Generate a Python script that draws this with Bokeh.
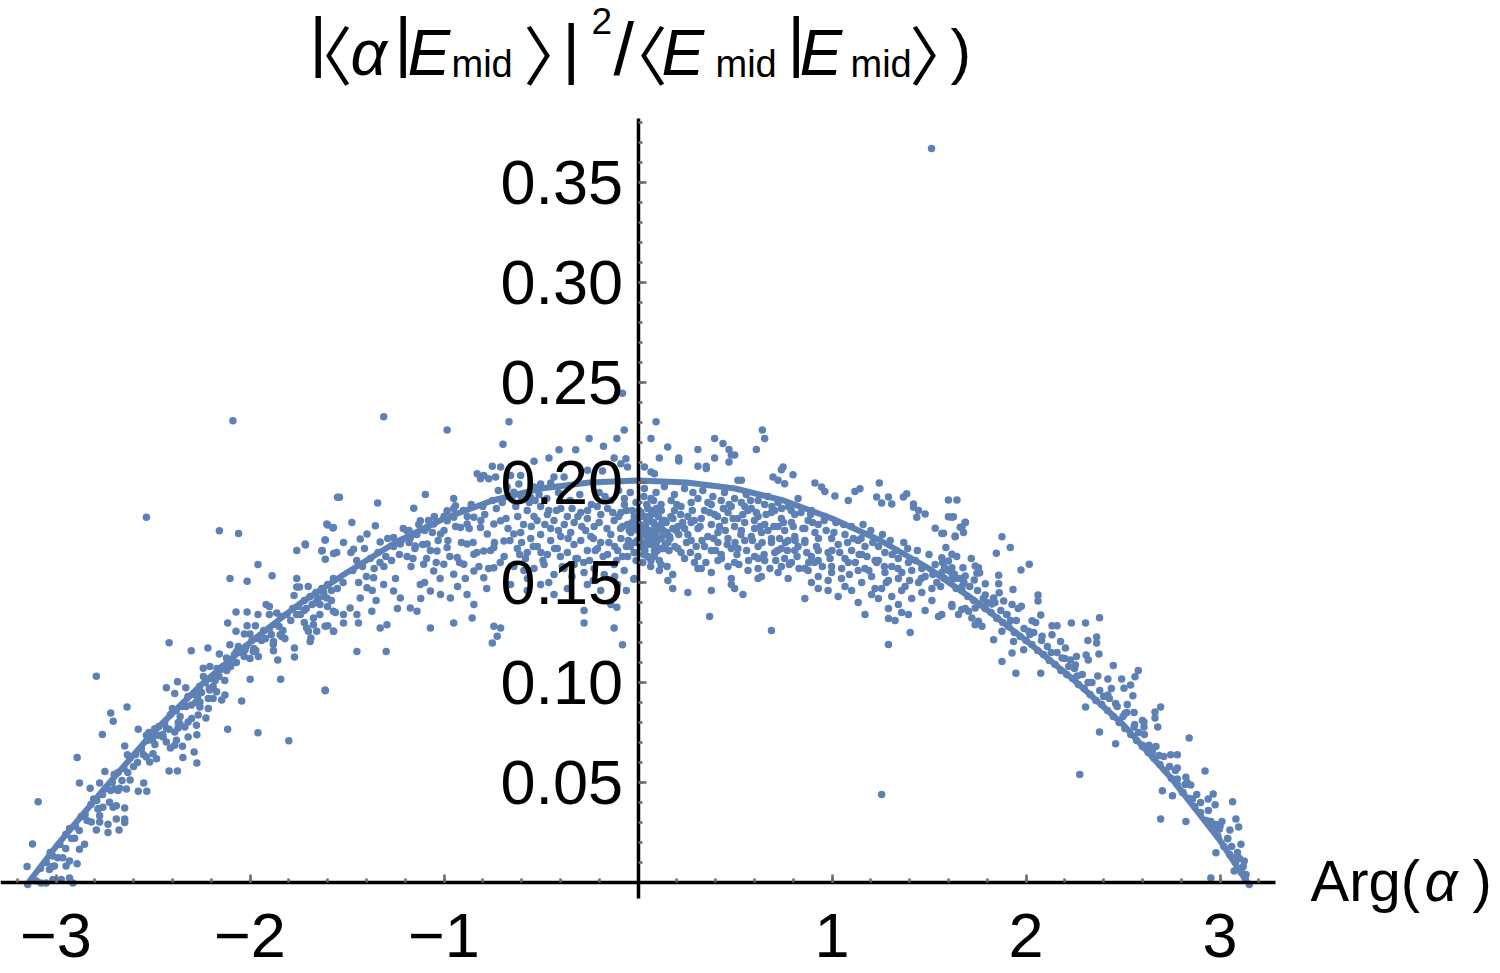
from bokeh.plotting import figure
from bokeh.models import Range1d, FixedTicker, Label, ColumnDataSource
from bokeh.embed import file_html
from bokeh.resources import INLINE

# ---------------- data ----------------
curve_x = [-3.1416, -3.0, -2.75, -2.5, -2.25, -2.0, -1.75, -1.5, -1.25, -1.0, -0.75, -0.5, -0.25, 0.0,
           0.25, 0.5, 0.75, 1.0, 1.25, 1.5, 1.75, 2.0, 2.25, 2.5, 2.75, 3.0, 3.1416]
curve_y = [0.0, 0.018, 0.047, 0.075, 0.099, 0.120, 0.139, 0.155, 0.170, 0.182, 0.191, 0.197, 0.200, 0.201,
           0.200, 0.197, 0.191, 0.182, 0.171, 0.157, 0.140, 0.121, 0.101, 0.079, 0.052, 0.021, 0.0]

pts_left = [
(-2.534,0.1826),(-2.158,0.1759),(-2.059,0.1745),(-1.549,0.1926),(-1.600,0.1787),(-1.573,0.1772),(-1.612,0.1713),
(-1.714,0.1688),(-1.759,0.1660),(-1.628,0.1660),(-1.612,0.1616),(-1.569,0.1645),(-1.959,0.1590),(-1.886,0.1534),
(-2.103,0.1520),(-2.015,0.1506),(-1.759,0.1520),(-1.759,0.1477),(-1.745,0.1477),(-1.773,0.1435),(-1.917,0.1390),
(-1.900,0.1380),(-2.072,0.1353),(-2.015,0.1353),(-1.959,0.1340),(-2.115,0.1298),(-2.015,0.1284),(-1.972,0.1284),
(-2.072,0.1256),(-2.029,0.1242),(-2.000,0.1242),(-1.900,0.1340),(-1.862,0.1348),(-1.673,0.1289),(-1.699,0.1256),
(-1.686,0.1222),(-1.599,0.1284),(-1.569,0.1256),(-1.845,0.1239),(-1.836,0.1230),(-1.879,0.1205),(-1.879,0.1159),
(-1.857,0.1113),(-1.771,0.1172),(-1.771,0.1127),(-2.417,0.1199),(-2.303,0.1159),(-2.217,0.1172),(-2.158,0.1142),
(-2.121,0.1122),(-2.104,0.1189),(-2.069,0.1155),(-2.026,0.1163),(-1.983,0.1155),(-1.957,0.1130),(-2.241,0.1071),
(-2.207,0.1080),(-2.155,0.1063),(-2.104,0.1088),(-1.999,0.1016),(-1.842,0.1016),(-1.612,0.0959),(-2.207,0.0962),
(-2.172,0.0954),(-2.190,0.0920),(-2.215,0.0920),(-2.258,0.0903),(-2.302,0.0887),(-2.258,0.0878),(-2.215,0.0870),
(-2.146,0.0912),(-2.129,0.0937),(-2.043,0.0907),(-2.431,0.0974),(-2.374,0.1004),(-2.388,0.0945),(-2.331,0.0974),
(-2.267,0.0837),(-2.227,0.0823),(-2.276,0.0786),(-2.115,0.0766),(-1.959,0.0749),(-1.800,0.0709),(-2.362,0.0795),
(-2.319,0.0803),(-2.301,0.0820),(-2.336,0.0778),(-2.417,0.0766),(-2.388,0.0753),(-2.371,0.0773),(-2.448,0.0728),
(-2.431,0.0702),(-2.410,0.0672),(-2.388,0.0686),(-2.379,0.0711),(-2.348,0.0681),(-2.288,0.0652),(-2.274,0.0598),
(-2.346,0.0625),(-2.319,0.0727),(-2.274,0.0739),(-2.417,0.0557),(-2.374,0.0557),(-2.491,0.0769),(-2.534,0.0736),
(-2.503,0.0711),(-2.474,0.0736),(-2.576,0.0766),(-2.646,0.0682),(-2.632,0.0639),(-2.534,0.0627),(-2.517,0.0602),
(-2.482,0.0619),(-2.500,0.0644),(-2.634,0.0877),(-2.718,0.0848),(-2.705,0.0806),(-2.761,0.0740),(-2.792,0.1031),
(-2.891,0.0625),(-2.748,0.0555),(-2.775,0.0498),(-2.618,0.0513),(-2.576,0.0456),(-2.532,0.0456),(-2.548,0.0498),
(-2.718,0.0460),(-2.698,0.0468),(-2.672,0.0471),(-2.637,0.0468),(-2.689,0.0384),(-2.646,0.0372),(-2.706,0.0376),
(-2.724,0.0401),(-2.758,0.0376),(-2.775,0.0334),(-2.879,0.0498),(-2.824,0.0471),(-2.806,0.0417),(-2.784,0.0367),
(-2.818,0.0303),(-2.775,0.0303),(-2.732,0.0291),(-2.689,0.0317),(-2.646,0.0317),(-2.646,0.0300),(-2.792,0.0263),
(-2.732,0.0250),(-2.675,0.0262),(-3.092,0.0404),(-3.121,0.0193),(-2.904,0.0221),(-2.879,0.0166),(-2.853,0.0191),
(-2.891,0.0094),(-3.034,0.0065),(-3.008,0.0082),(-2.948,0.0082),(-2.930,0.0107),(-2.991,0.0124),(-3.017,0.0132),
(-2.965,0.0124),(-3.149,0.0080),(-3.146,-0.0010),(-3.102,0.0007),(-3.077,-0.0002),(-3.016,0.0015),(-2.973,0.0015),
(-2.930,0.0023),(-2.913,-0.0002),(-3.051,-0.0002),(-2.088,0.2309),
(-3.12,0.002),(-3.08,0.007),(-3.05,0.010),(-3.03,0.015),(-2.98,0.019),(-2.95,0.024),(-2.93,0.027),(-2.90,0.028),
(-2.87,0.033),(-2.85,0.034),(-2.82,0.039),(-2.79,0.041),(-2.76,0.044),(-2.74,0.047),(-2.71,0.050),(-2.68,0.055),
(-2.65,0.057),(-2.62,0.062),(-2.59,0.064),(-2.56,0.067),(-2.53,0.071),(-2.50,0.073),(-2.47,0.078),(-2.44,0.080),
(-2.41,0.084),(-2.38,0.086),(-2.35,0.088),(-2.32,0.093),(-2.29,0.094),(-2.26,0.098),(-2.23,0.100),(-2.20,0.102),
(-2.17,0.107),(-2.14,0.108),(-2.11,0.110),(-2.08,0.114),(-2.05,0.115),(-2.02,0.118),(-1.99,0.121),(-1.96,0.122),
(-1.93,0.126),(-1.90,0.127),(-1.87,0.129),(-1.84,0.133),(-1.81,0.134),(-1.78,0.137),(-1.75,0.138),(-1.72,0.141),
(-1.69,0.143),(-1.66,0.145),(-1.63,0.147),(-1.60,0.149),(-1.57,0.152),
(-2.92,0.022),(-2.78,0.037),(-2.66,0.051),(-2.58,0.060),(-2.45,0.074),(-2.36,0.083),(-2.28,0.090),(-2.18,0.101),
(-2.10,0.108),(-1.98,0.117),(-1.92,0.122),(-1.85,0.128),(-1.76,0.134),(-1.68,0.139),(-1.62,0.143),(-2.06,0.118),
(-2.24,0.103),(-2.40,0.087),(-2.52,0.075),(-2.70,0.054),
(-2.60,0.058),(-2.55,0.064),(-2.49,0.069),(-2.43,0.077),(-2.37,0.080),(-2.33,0.088),(-2.27,0.093),(-2.21,0.097),
(-2.16,0.103),(-2.12,0.106),(-2.07,0.110),(-2.03,0.113),(-1.97,0.116),(-1.94,0.121),(-1.89,0.124),(-1.83,0.126),
(-1.79,0.131),(-1.74,0.134),(-1.71,0.137),(-1.65,0.142),(-1.58,0.146),(-2.25,0.095),(-2.19,0.098),(-2.13,0.101),
(-2.00,0.112),(-1.88,0.119),(-1.82,0.122),(-1.72,0.130),(-2.88,0.026),(-2.95,0.017),(-3.02,0.008),(-2.84,0.031),
(-2.68,0.046),(-2.63,0.055),
]

pts_mid_left = [
(-1.311,0.2329),(-0.984,0.2262),(-0.665,0.2304),(-0.696,0.2191),(-0.071,0.2262),(-0.080,0.2446),(-0.252,0.2220),
(-0.109,0.2220),(-0.407,0.2164),(-0.321,0.2164),(-0.178,0.2181),(-0.459,0.2123),(-0.536,0.2106),(-0.751,0.2081),
(-0.708,0.2077),(-0.657,0.2035),(-0.605,0.2035),(-0.795,0.2035),(-0.829,0.2044),(-0.812,0.2019),(-0.769,0.2019),
(-0.734,0.2027),(-0.123,0.2123),(-0.062,0.2119),(-0.088,0.2094),(-0.054,0.2077),(-0.183,0.2057),(-0.260,0.2061),
(-0.381,0.2027),(-0.433,0.2027),(-0.450,0.1997),(-0.502,0.1993),(-0.536,0.1977),(-0.614,0.1993),(-0.554,0.1926),
(-0.640,0.1951),(-0.674,0.1977),(-1.096,0.1940),(-1.539,0.1926),(-1.342,0.1898),(-1.156,0.1871),(-0.984,0.1859),
(-0.941,0.1884),(-1.604,0.1792),(-1.570,0.1775),(-1.475,0.1800),(-1.354,0.1784),(-1.613,0.1713),(-1.716,0.1692),
(-1.630,0.1658),(-1.553,0.1650),(-1.518,0.1700),(-1.466,0.1666),(-1.329,0.1703),(-1.432,0.1717),(-1.397,0.1742),
(-1.260,0.1725),(-1.225,0.1692),(-1.148,0.1683),(-1.173,0.1725),(-1.190,0.1759),
(-1.122,0.1809),(-1.087,0.1775),(-1.053,0.1792),(-1.018,0.1742),(-0.984,0.1809),(-0.950,0.1826),(-0.915,0.1775),
(-0.881,0.1792),(-0.846,0.1826),(-0.812,0.1775),(-0.777,0.1742),(-0.743,0.1792),(-0.708,0.1809),(-1.087,0.1692),
(-1.036,0.1658),(-0.984,0.1675),(-0.932,0.1625),(-0.881,0.1692),(-0.846,0.1641),(-0.795,0.1658),(-0.743,0.1675),
(-0.691,0.1708),(-0.640,0.1742),(-1.105,0.1591),(-1.053,0.1557),(-1.001,0.1591),(-0.950,0.1541),(-0.898,0.1591),
(-0.846,0.1557),(-0.795,0.1524),(-0.743,0.1574),(-1.122,0.1490),(-1.070,0.1457),(-1.018,0.1440),(-0.967,0.1423),
(-0.881,0.1440),(-0.846,0.1390),(-1.139,0.1356),(-1.174,0.1373),(-1.225,0.1423),(-1.260,0.1457),(-1.311,0.1490),
(-1.363,0.1524),(-1.397,0.1474),(-1.432,0.1423),(-1.484,0.1373),(-1.518,0.1340),(-1.570,0.1356),(-1.604,0.1423),
(-1.639,0.1390),(-1.673,0.1323),(-1.708,0.1272),(-1.690,0.1205),(-1.656,0.1256),(-1.613,0.1281),(-1.570,0.1256),
(-1.518,0.1298),(-1.449,0.1340),(-1.441,0.1298),(-1.372,0.1356),(-1.329,0.1272),(-1.294,0.1289),(-1.449,0.1155),
(-1.298,0.1155),(-1.070,0.1272),(-0.950,0.1298),(-0.855,0.1323),(-0.743,0.1281),(-0.751,0.1197),(-0.726,0.1231),
(-0.708,0.1272),(-1.613,0.0962),(-0.278,0.1298),(-0.123,0.1272),(-0.080,0.1189),(-0.109,0.1376),
(-0.571,0.186),(-0.536,0.183),(-0.502,0.188),(-0.467,0.184),(-0.433,0.181),(-0.398,0.187),(-0.364,0.183),
(-0.329,0.180),(-0.295,0.185),(-0.261,0.182),(-0.226,0.178),(-0.192,0.184),(-0.157,0.187),(-0.123,0.181),
(-0.088,0.185),(-0.054,0.179),(-0.019,0.183),
(-0.605,0.175),(-0.553,0.172),(-0.502,0.174),(-0.450,0.171),(-0.398,0.173),(-0.347,0.175),(-0.295,0.171),
(-0.243,0.173),(-0.192,0.170),(-0.140,0.174),(-0.088,0.172),(-0.037,0.175),
(-0.622,0.167),(-0.571,0.165),(-0.519,0.168),(-0.467,0.164),(-0.416,0.167),(-0.364,0.165),(-0.312,0.162),
(-0.261,0.166),(-0.209,0.167),(-0.157,0.164),(-0.105,0.166),(-0.054,0.163),
(-0.639,0.159),(-0.588,0.156),(-0.536,0.157),(-0.484,0.159),(-0.433,0.154),(-0.381,0.157),(-0.329,0.159),
(-0.278,0.155),(-0.226,0.157),(-0.174,0.154),(-0.123,0.159),(-0.071,0.156),(-0.019,0.152),
(-0.657,0.149),(-0.571,0.146),(-0.502,0.149),(-0.433,0.144),(-0.364,0.147),(-0.261,0.149),(-0.192,0.146),
(-0.105,0.149),(-0.140,0.139),(-0.278,0.136),
(-0.010,0.190),(-0.030,0.186),(-0.045,0.176),(-0.070,0.192),(-0.015,0.170),(-0.060,0.168),(-0.080,0.178),
(-1.00,0.183),(-0.95,0.187),(-0.90,0.186),(-0.86,0.189),(-0.80,0.188),(-0.75,0.191),(-0.70,0.190),(-0.65,0.193),
(-0.60,0.192),
(-1.52,0.150),(-1.47,0.156),(-1.42,0.158),(-1.38,0.162),(-1.34,0.165),(-1.30,0.163),(-1.26,0.168),(-1.22,0.171),
(-1.18,0.170),(-1.14,0.174),(-1.10,0.176),(-1.06,0.175),(-1.45,0.161),(-1.40,0.153),(-1.36,0.157),(-1.31,0.158),
(-1.27,0.161),(-1.23,0.164),(-1.19,0.163),(-1.15,0.167),(-1.11,0.169),(-1.07,0.166),(-1.03,0.171),
(-1.70,0.148),(-1.66,0.140),(-1.62,0.145),(-1.58,0.141),(-1.55,0.147),(-1.72,0.136),(-1.64,0.134),(-1.60,0.138),
(-1.56,0.135),
(-0.68,0.182),(-0.66,0.171),(-0.63,0.188),(-0.61,0.164),(-0.59,0.179),(-0.56,0.190),(-0.54,0.168),(-0.52,0.181),
(-0.49,0.161),(-0.47,0.192),(-0.45,0.177),(-0.42,0.186),(-0.40,0.163),(-0.38,0.179),(-0.35,0.191),(-0.33,0.169),
(-0.31,0.183),(-0.28,0.160),(-0.27,0.176),(-0.24,0.189),(-0.22,0.166),(-0.20,0.180),(-0.17,0.193),(-0.15,0.170),
(-0.13,0.185),(-0.11,0.161),(-0.09,0.177),(-0.07,0.189),(-0.05,0.171),(-0.03,0.180),(-0.02,0.165),(-0.04,0.195),
(-0.10,0.196),(-0.20,0.195),(-0.30,0.194),(-0.41,0.195),(-0.51,0.194),(-0.57,0.152),(-0.46,0.150),(-0.34,0.153),
(-0.23,0.151),(-0.12,0.153),(-0.06,0.146),
(-1.48,0.165),(-1.44,0.150),(-1.41,0.167),(-1.37,0.146),(-1.33,0.160),(-1.29,0.172),(-1.25,0.152),(-1.21,0.177),
(-1.17,0.158),(-1.13,0.179),(-1.09,0.162),(-1.05,0.183),(-1.02,0.152),(-0.98,0.171),(-0.94,0.178),(-0.92,0.160),
(-0.88,0.183),(-0.85,0.170),(-0.82,0.158),(-0.79,0.184),(-0.76,0.166),(-0.73,0.187),(-0.71,0.160),(-0.93,0.148),
(-1.12,0.142),(-1.24,0.137),(-1.35,0.141),(-0.78,0.147),
(-1.18,0.176),(-1.16,0.162),(-1.10,0.150),(-1.08,0.181),(-1.04,0.160),(-1.00,0.176),(-0.97,0.163),(-0.95,0.192),
(-0.91,0.170),(-0.89,0.152),(-0.87,0.177),(-0.83,0.165),(-0.81,0.181),(-0.77,0.157),(-0.74,0.170),(-0.72,0.196),
(-0.69,0.163),(-0.67,0.177),(-0.64,0.158),(-0.62,0.183),(-0.60,0.170),(-0.58,0.162),(-0.55,0.178),(-0.53,0.191),
(-0.50,0.165),(-0.48,0.179),(-0.46,0.186),(-0.43,0.167),(-0.41,0.176),(-0.39,0.158),(-0.36,0.172),(-0.34,0.187),
(-0.32,0.162),(-0.29,0.178),(-0.26,0.186),(-0.25,0.161),(-0.23,0.172),(-0.21,0.188),(-0.18,0.163),(-0.16,0.177),
(-0.14,0.191),(-0.12,0.168),(-0.10,0.183),(-0.08,0.163),(-0.06,0.186),(-0.04,0.168),(-0.02,0.177),(-0.01,0.161),
]

pts_mid_right = [
(0.093,0.2304),(0.067,0.2220),(0.641,0.2262),(0.653,0.2220),(0.395,0.2220),(0.438,0.2195),(0.469,0.2165),
(0.610,0.2165),(0.153,0.2178),(0.110,0.2123),(0.210,0.2123),(0.210,0.2108),(0.309,0.2165),(0.395,0.2123),
(0.352,0.2081),(0.352,0.2070),(0.309,0.2081),(0.481,0.2137),(0.469,0.2103),(0.498,0.2137),(0.033,0.2078),
(0.067,0.2053),(0.085,0.2044),(0.748,0.2078),(0.739,0.2064),(0.799,0.2039),(0.696,0.2028),(0.722,0.2011),
(0.756,0.1994),(0.533,0.2011),(0.515,0.2011),(0.912,0.1997),(0.946,0.1977),(0.963,0.1955),(1.015,0.1932),
(1.084,0.1910),(1.118,0.1955),(1.144,0.1969),(1.244,0.1997),(1.230,0.1927),(1.291,0.1927),(1.308,0.1893),
(1.256,0.1897),(1.385,0.1944),(1.368,0.1927),(1.420,0.1893),(1.420,0.1877),(1.446,0.1860),(1.480,0.1843),
(1.437,0.1826),(1.618,0.1826),(1.532,0.1771),(1.575,0.1746),(1.635,0.1732),(1.687,0.1801),(1.670,0.1776),
(-0.022,0.1516),
(0.033,0.197),(0.093,0.195),(0.136,0.198),(0.188,0.194),(0.240,0.197),(0.283,0.195),(0.334,0.196),(0.386,0.193),
(0.446,0.195),(0.498,0.192),(0.558,0.194),(0.619,0.191),(0.670,0.193),(0.722,0.190),(0.825,0.192),
(-0.002,0.190),(0.067,0.192),(0.119,0.189),(0.171,0.191),(0.222,0.188),(0.274,0.190),(0.309,0.192),(0.378,0.189),
(0.429,0.191),(0.481,0.188),(0.533,0.190),(0.584,0.187),(0.653,0.189),(0.705,0.186),(0.774,0.188),(0.894,0.186),
(0.016,0.185),(0.050,0.187),(0.102,0.184),(0.188,0.186),(0.257,0.183),(0.343,0.186),(0.395,0.184),(0.464,0.185),
(0.515,0.182),(0.567,0.186),(0.619,0.183),(0.688,0.185),(0.739,0.182),(0.808,0.184),(0.877,0.181),(0.963,0.183),
(-0.002,0.180),(0.042,0.182),(0.085,0.179),(0.136,0.181),(0.205,0.178),(0.274,0.180),(0.326,0.182),(0.378,0.179),
(0.446,0.181),(0.498,0.178),(0.550,0.180),(0.601,0.177),(0.653,0.179),(0.722,0.178),(0.791,0.180),(0.860,0.177),
(0.929,0.179),
(0.016,0.176),(0.059,0.174),(0.093,0.177),(0.128,0.175),(0.162,0.173),(0.197,0.176),(0.257,0.174),(0.309,0.177),
(0.360,0.173),(0.412,0.175),(0.464,0.172),(0.533,0.176),(0.584,0.173),(0.636,0.175),(0.688,0.172),(0.756,0.176),
(0.808,0.173),(0.912,0.175),(0.998,0.172),(1.067,0.174),(1.135,0.171),
(-0.002,0.171),(0.050,0.169),(0.102,0.172),(0.154,0.170),(0.205,0.167),(0.274,0.171),(0.343,0.168),(0.412,0.170),
(0.481,0.167),(0.550,0.171),(0.619,0.168),(0.688,0.170),(0.739,0.167),(0.774,0.171),(0.825,0.168),(0.860,0.170),
(0.929,0.166),(1.032,0.169),(1.101,0.166),(1.170,0.168),
(0.033,0.166),(0.085,0.164),(0.136,0.167),(0.222,0.165),(0.309,0.163),(0.378,0.166),(0.429,0.164),(0.515,0.167),
(0.601,0.163),(0.705,0.165),(0.756,0.162),(0.808,0.166),(0.894,0.163),(0.980,0.165),(1.067,0.162),(1.153,0.164),
(1.222,0.161),(1.273,0.165),(1.342,0.162),
(0.067,0.161),(0.119,0.159),(0.240,0.162),(0.291,0.160),(0.326,0.157),(0.412,0.161),(0.464,0.158),(0.498,0.160),
(0.619,0.157),(0.653,0.161),(0.739,0.158),(0.791,0.160),(0.860,0.157),(0.929,0.161),(0.998,0.158),(1.084,0.160),
(1.170,0.157),(1.239,0.161),(1.308,0.158),(1.394,0.160),(1.463,0.157),(1.532,0.159),(1.601,0.156),
(0.110,0.156),(0.179,0.154),(0.309,0.157),(0.378,0.155),(0.481,0.152),(0.567,0.156),(0.636,0.153),(0.722,0.155),
(0.774,0.152),(0.877,0.156),(0.929,0.153),(0.998,0.155),(1.049,0.152),(1.135,0.156),(1.204,0.153),(1.273,0.155),
(1.342,0.152),(1.411,0.156),(1.480,0.153),(1.566,0.155),(1.635,0.152),
(0.154,0.151),(0.481,0.149),(0.619,0.152),(0.894,0.150),(0.929,0.147),(0.980,0.151),(1.067,0.148),(1.153,0.150),
(1.222,0.147),(1.291,0.151),(1.377,0.148),(1.446,0.150),(1.515,0.147),(1.601,0.151),(1.670,0.148),
(0.179,0.147),(0.257,0.145),(0.378,0.146),(0.498,0.147),(0.541,0.144),(0.980,0.146),(1.032,0.143),(1.101,0.146),
(1.204,0.144),(1.256,0.147),(1.308,0.143),(1.359,0.146),(1.411,0.142),(1.463,0.145),
(0.860,0.142),(1.135,0.140),(1.239,0.142),(1.342,0.139),(1.515,0.141),(1.618,0.138),
(1.291,0.137),(1.359,0.135),(1.480,0.136),(1.652,0.134),(1.687,0.137),
(0.369,0.133),(1.170,0.134),(1.291,0.132),(1.325,0.131),(1.394,0.134),(1.549,0.133),
(0.688,0.126),(1.403,0.125),(1.291,0.119),
(0.010,0.178),(0.025,0.174),(0.045,0.176),(0.060,0.171),(0.075,0.173),(0.020,0.168),(0.040,0.183),(0.070,0.186),
(0.110,0.177),(0.125,0.181),(0.095,0.168),(0.150,0.175),(0.005,0.186),(0.030,0.164),(0.080,0.163),
(0.01,0.172),(0.02,0.177),(0.03,0.170),(0.04,0.179),(0.05,0.173),(0.06,0.176),(0.07,0.169),(0.08,0.180),
(0.09,0.174),(0.10,0.171),(0.11,0.178),(0.12,0.172),(0.13,0.176),(0.14,0.169),(0.015,0.183),(0.035,0.166),
(0.055,0.181),(0.085,0.166),(0.105,0.183),(0.125,0.167),(0.145,0.180),(0.165,0.172),(0.18,0.177),(0.19,0.168),
(0.21,0.174),(0.23,0.180),(0.025,0.160),(0.065,0.158),(0.045,0.189),(0.095,0.187),
(0.22,0.184),(0.25,0.170),(0.28,0.186),(0.30,0.168),(0.32,0.178),(0.35,0.160),(0.36,0.190),(0.39,0.172),
(0.41,0.183),(0.43,0.162),(0.45,0.176),(0.47,0.189),(0.50,0.170),(0.52,0.159),(0.54,0.184),(0.56,0.166),
(0.58,0.191),(0.60,0.181),(0.62,0.162),(0.64,0.170),(0.66,0.184),(0.68,0.157),(0.70,0.178),(0.72,0.166),
(0.74,0.187),(0.76,0.170),(0.78,0.159),(0.80,0.178),(0.82,0.163),(0.84,0.185),(0.86,0.171),(0.88,0.160),
(0.90,0.180),(0.92,0.168),(0.95,0.158),(0.97,0.176),(1.00,0.166),(1.02,0.180),(1.05,0.157),(1.08,0.170),
(1.10,0.178),(1.12,0.160),(1.15,0.172),(1.18,0.163),(1.20,0.176),(1.24,0.168),(1.27,0.158),(1.30,0.171),
(1.33,0.166),(1.36,0.155),(1.39,0.167),(1.43,0.161),(1.46,0.152),(1.50,0.164),(1.54,0.150),(1.57,0.160),
(0.03,0.193),(0.08,0.191),(0.12,0.186),(0.17,0.183),(0.20,0.189),(0.24,0.177),(0.27,0.165),(0.29,0.181),
(0.33,0.171),(0.37,0.185),(0.40,0.166),(0.42,0.178),(0.44,0.187),(0.46,0.169),(0.49,0.182),(0.51,0.164),
(0.53,0.174),(0.55,0.188),(0.57,0.161),(0.59,0.171),(0.61,0.185),(0.63,0.178),(0.65,0.164),(0.67,0.176),
(0.69,0.188),(0.71,0.161),(0.73,0.172),(0.75,0.180),(0.77,0.166),(0.79,0.186),(0.81,0.171),(0.83,0.157),
(0.85,0.177),(0.87,0.165),(0.89,0.184),(0.91,0.160),(0.93,0.172),(0.96,0.181),(0.99,0.162),(1.01,0.175),
(1.04,0.165),(1.06,0.179),(1.09,0.154),(1.11,0.172),(1.14,0.164),(1.16,0.179),(1.19,0.156),(1.21,0.170),
(1.23,0.160),(1.26,0.174),(1.28,0.150),(1.31,0.164),(1.34,0.157),(1.37,0.170),(1.40,0.151),(1.44,0.166),
(1.47,0.158),(1.52,0.154),(1.56,0.148),
(0.02,0.175),(0.04,0.170),(0.06,0.181),(0.08,0.172),(0.10,0.166),(0.12,0.179),(0.14,0.174),(0.16,0.166),
(0.18,0.182),(0.05,0.163),(0.11,0.161),(0.15,0.158),(0.00,0.176),(0.07,0.184),
]

pts_right = [
(1.600,0.1913),(1.644,0.1913),(1.600,0.1829),(1.626,0.1829),(1.687,0.1800),(1.661,0.1776),(1.678,0.1750),
(1.635,0.1729),(1.566,0.1745),(1.876,0.1729),(1.919,0.1675),(1.847,0.1646),(1.587,0.1675),(1.618,0.1641),
(1.643,0.1630),(1.600,0.1608),(1.566,0.1624),(1.580,0.1574),(1.618,0.1574),(1.718,0.1620),(1.738,0.1583),
(1.755,0.1574),(1.675,0.1574),(1.687,0.1532),(1.631,0.1541),(1.747,0.1546),(1.761,0.1549),(1.733,0.1512),
(1.790,0.1494),(1.859,0.1536),(1.859,0.1494),(1.974,0.1563),(2.017,0.1591),(1.933,0.1465),(1.862,0.1449),
(1.790,0.1437),(1.833,0.1423),(1.976,0.1381),(1.928,0.1390),(1.885,0.1407),(1.824,0.1393),(1.781,0.1381),
(1.738,0.1373),(1.704,0.1356),(1.669,0.1365),(1.618,0.1390),(1.566,0.1340),(1.721,0.1323),(1.755,0.1306),
(1.738,0.1289),(1.773,0.1281),(1.833,0.1214),(1.876,0.1256),(1.902,0.1340),(1.850,0.1323),
(2.062,0.1437),(2.062,0.1407),(2.031,0.1309),(2.076,0.1338),(2.134,0.1284),(2.160,0.1284),(2.234,0.1298),
(2.307,0.1298),(2.379,0.1324),(1.936,0.1205),(2.014,0.1256),(2.083,0.1231),(2.134,0.1239),(1.988,0.1164),
(1.928,0.1147),(1.876,0.1105),(1.948,0.1046),(2.076,0.1046),(2.178,0.1205),(2.203,0.1172),(2.186,0.1122),
(2.229,0.1113),(2.255,0.1088),(2.264,0.1033),(2.319,0.1210),(2.364,0.1227),(2.364,0.1197),(2.376,0.1143),
(2.310,0.1138),(2.321,0.1113),(2.450,0.1085),(2.422,0.1018),(2.370,0.1033),(2.493,0.1018),(2.505,0.0971),
(2.539,0.0987),(2.551,0.0934),(2.579,0.1060),(2.562,0.1029),(2.422,0.0937),(2.462,0.0895),(2.522,0.0890),
(2.510,0.0845),(2.557,0.0850),(2.557,0.0778),(2.608,0.0778),(2.608,0.0803),(2.665,0.0853),(2.665,0.0823),
(2.694,0.0878),(2.679,0.0778),(2.841,0.0722),(2.379,0.0753),(2.462,0.0694),(2.277,0.0540),(2.307,0.0878),
(2.600,0.0686),(2.634,0.0686),(2.651,0.0652),(2.686,0.0635),(2.746,0.0639),(2.780,0.0639),(2.780,0.0572),
(2.780,0.0518),(2.824,0.0526),(2.849,0.0488),(2.923,0.0557),(2.703,0.0459),(2.755,0.0434),(2.806,0.0451),
(2.858,0.0417),(2.939,0.0417),(2.965,0.0443),(2.975,0.0389),(3.065,0.0404),(2.694,0.0317),(2.824,0.0305),
(2.953,0.0305),(3.010,0.0305),(2.996,0.0266),(3.051,0.0263),(3.082,0.0317),(3.096,0.0278),(3.039,0.0219),
(3.108,0.0191),(2.979,0.0149),(3.065,0.0124),(3.125,0.0107),(3.073,0.0057),(3.134,0.0040),(2.953,0.0023),
(3.151,-0.0010),
(1.58,0.152),(1.61,0.150),(1.64,0.147),(1.67,0.146),(1.70,0.143),(1.73,0.141),(1.76,0.139),(1.79,0.137),
(1.82,0.135),(1.85,0.132),(1.88,0.130),(1.91,0.128),(1.94,0.125),(1.97,0.123),(2.00,0.121),(2.03,0.119),
(2.06,0.116),(2.09,0.114),(2.12,0.111),(2.15,0.109),(2.18,0.106),(2.21,0.104),(2.24,0.102),(2.27,0.099),
(2.30,0.097),(2.33,0.094),(2.36,0.091),(2.39,0.089),(2.42,0.086),(2.45,0.083),(2.48,0.080),(2.51,0.077),
(2.54,0.074),(2.57,0.071),(2.60,0.068),(2.63,0.065),(2.66,0.062),(2.69,0.059),(2.72,0.056),(2.75,0.052),
(2.78,0.049),(2.81,0.045),(2.84,0.042),(2.87,0.038),(2.90,0.035),(2.93,0.031),(2.96,0.027),(2.99,0.023),
(3.02,0.018),(3.05,0.014),(3.08,0.010),(3.11,0.005),(3.13,0.002),
(1.68,0.150),(1.80,0.140),(1.92,0.131),(2.02,0.124),(2.13,0.115),(2.22,0.108),(2.32,0.100),(2.40,0.093),
(2.50,0.083),(2.58,0.075),(2.65,0.067),(2.74,0.058),(2.82,0.049),(2.90,0.040),(2.98,0.029),(3.06,0.018),
(3.10,0.012),
(1.62,0.154),(1.66,0.152),(1.71,0.148),(1.75,0.146),(1.78,0.142),(1.84,0.140),(1.87,0.136),(1.90,0.134),
(1.95,0.131),(1.99,0.127),(2.04,0.125),(2.08,0.121),(2.11,0.118),(2.16,0.115),(2.20,0.112),(2.25,0.107),
(2.29,0.104),(2.34,0.100),(2.38,0.096),(2.43,0.092),(2.47,0.088),(2.52,0.085),(2.56,0.079),(2.61,0.074),
(2.67,0.068),(2.71,0.063),(2.77,0.056),(2.83,0.050),(2.88,0.044),(2.94,0.036),(3.00,0.028),(3.04,0.022),
(3.09,0.015),(3.12,0.008),(1.96,0.137),(2.05,0.130),(2.26,0.113),(2.44,0.097),(2.60,0.081),
]

outliers = [(1.513, 0.367), (1.256, 0.044)]

x_ticks = [-3, -2, -1, 1, 2, 3]
x_tick_labels = ["\u22123", "\u22122", "\u22121", "1", "2", "3"]
y_ticks = [0.05, 0.10, 0.15, 0.20, 0.25, 0.30, 0.35]
y_tick_labels = ["0.05", "0.10", "0.15", "0.20", "0.25", "0.30", "0.35"]

# ---------------- styling ----------------
BLUE = "#5E81B5"
FONT = "Liberation Sans"
BRACKET_FONT = "Noto Sans CJK JP"
TICK_GRAY = "#6a6a6a"

# pixel scale of the reference: 194 px per x unit (origin at 637.5), 2000 px per y unit (origin at 882)
X0, XS, Y0, YS = 637.5, 194.0, 882.0, 2000.0
W, H = 1496, 970

p = figure(frame_width=W, frame_height=H,
           x_range=Range1d(-X0 / XS, (W - X0) / XS), y_range=Range1d((Y0 - H) / YS, Y0 / YS),
           output_backend="svg", toolbar_location=None,
           min_border_left=0, min_border_right=0, min_border_top=0, min_border_bottom=0,
           background_fill_color="white", border_fill_color="white", outline_line_color=None)
p.grid.visible = False

all_pts = pts_left + pts_mid_left + pts_mid_right + pts_right + outliers
src = ColumnDataSource(dict(x=[q[0] for q in all_pts], y=[q[1] for q in all_pts]))
p.scatter("x", "y", source=src, size=7.5, fill_color=BLUE, line_color=None)
p.line(curve_x, curve_y, line_width=6, line_color=BLUE)

x_minor = [round(-3.2 + 0.2 * i, 1) for i in range(33)]
y_minor = [round(0.01 * i, 2) for i in range(1, 39)]
p.xaxis.ticker = FixedTicker(ticks=x_ticks, minor_ticks=x_minor)
p.yaxis.ticker = FixedTicker(ticks=y_ticks, minor_ticks=y_minor)
p.xaxis.major_label_overrides = dict(zip(x_ticks, x_tick_labels))
p.yaxis.major_label_overrides = dict(zip(y_ticks, y_tick_labels))
p.xaxis.bounds = (-3.4, 3.286)
p.yaxis.bounds = (-0.008, 0.382)

for ax in (p.xaxis[0], p.yaxis[0]):
    ax.fixed_location = 0
    ax.axis_line_width = 3.5
    ax.axis_line_color = "black"
    ax.major_tick_line_color = TICK_GRAY
    ax.minor_tick_line_color = TICK_GRAY
    ax.major_tick_line_width = 2.5
    ax.minor_tick_line_width = 2.5
    ax.major_tick_in = 8
    ax.major_tick_out = 0
    ax.minor_tick_in = 4
    ax.minor_tick_out = 0
    ax.major_label_text_font = FONT
    ax.major_label_text_font_size = "63px"
    ax.major_label_text_color = "black"
p.xaxis.major_label_standoff = 31
p.yaxis.major_label_standoff = 15


def put(text, px, baseline, size, italic=False, font=FONT):
    # Label's alphabetic anchor sits ~0.385 em above the drawn baseline
    py = baseline - 0.385 * size
    p.add_layout(Label(x=(px - X0) / XS, y=(Y0 - py) / YS, x_units="data", y_units="data", text=text,
                       text_font=font, text_font_size=f"{size}px",
                       text_font_style="italic" if italic else "normal",
                       text_color="black", text_align="left", text_baseline="alphabetic"))


# y-axis label (top):  |<a|E_mid>|^2/<E_mid|E_mid>)
title_pieces = [
    ("|", 309, 66, 67, False, FONT), ("\u3008", 288, 76, 64, False, BRACKET_FONT),
    ("\u03b1", 350, 77, 64, True, FONT), ("|", 394, 66, 67, False, FONT),
    ("E", 407, 77, 64, True, FONT), ("mid", 451, 78, 38, False, FONT),
    ("\u3009", 523, 76, 64, False, BRACKET_FONT), ("|", 562, 73, 67, False, FONT),
    ("2", 591, 35, 37, False, FONT), ("/", 613, 77, 74, False, FONT),
    ("\u3008", 603, 76, 64, False, BRACKET_FONT), ("E", 661, 77, 64, True, FONT),
    ("mid", 715, 78, 38, False, FONT), ("|", 787, 66, 67, False, FONT),
    ("E", 799, 77, 64, True, FONT), ("mid", 850, 78, 38, False, FONT),
    ("\u3009", 909, 76, 64, False, BRACKET_FONT), (")", 950, 74, 62, False, FONT),
]
for t, px, b, s, it, f in title_pieces:
    put(t, px, b, s, it, f)

# x-axis label (right)
put("Arg(", 1310, 902, 58)
put("\u03b1", 1424, 902, 58, italic=True)
put(")", 1472, 902, 58)

open("out.html", "w").write(file_html(p, INLINE))
